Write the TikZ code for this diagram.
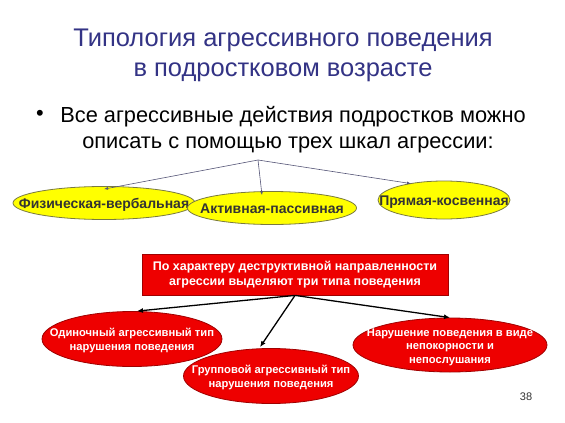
\documentclass[tikz,border=0pt]{standalone}
\usepackage{fontspec}
\setmainfont{Liberation Sans}
\usetikzlibrary{shapes.geometric,arrows.meta}
\definecolor{titleblue}{HTML}{333385}
\definecolor{yel}{HTML}{FFFF00}
\definecolor{yeldraw}{HTML}{7A7A40}
\definecolor{redfill}{HTML}{EE0000}
\definecolor{reddraw}{HTML}{A00000}
\definecolor{txtgray}{HTML}{333333}
\definecolor{thinline}{HTML}{555577}
\newcommand{\ctext}[1]{\makebox[0pt]{\smash{\raisebox{-0.8ex}{\begin{tabular}[c]{@{}c@{}}#1\end{tabular}}}}}
\tikzset{
  yellips/.style={ellipse, draw=yeldraw, fill=yel, line width=0.8pt, inner sep=0pt,
    font=\fontsize{14}{16}\selectfont\bfseries, text=txtgray},
  rellips/.style={ellipse, draw=reddraw, fill=redfill, line width=0.8pt, inner sep=0pt,
    font=\fontsize{11.2}{13.5}\selectfont\bfseries, text=white},
  redbox/.style={rectangle, draw=reddraw, fill=redfill, line width=0.8pt,
    font=\fontsize{12.5}{15}\selectfont\bfseries, text=white, align=center,
    minimum width=306pt, minimum height=41pt, inner sep=0pt},
  thinarrow/.style={draw=thinline, line width=0.6pt, -{Latex[length=4pt,width=3pt]}},
  boldarrow/.style={draw=black, line width=1.3pt, -{Latex[length=6pt,width=5pt]}},
  btxt/.style={font=\fontsize{21.8}{28}\selectfont, inner sep=0pt},
}
\begin{document}
\begin{tikzpicture}[x=1pt,y=-1pt]
\useasboundingbox (0,0) rectangle (565,423);
\fill[white] (0,0) rectangle (565,423);
% title
\node[text=titleblue, font=\fontsize{25.5}{30}\selectfont, align=center] (title) at (283,55)
  {Типология агрессивного поведения\\в подростковом возрасте};
% bullet
\node[btxt] (bul) at (40,115) {•};
\node[btxt] (bline1) at (293,117) {Все агрессивные действия подростков можно};
\node[btxt] (bline2) at (288,145) {описать с помощью трех шкал агрессии:};
% top branching
\coordinate (apex1) at (258,160);
\node[yellips, minimum width=182pt, minimum height=33pt] (fv) at (104,203) {\ctext{Физическая-вербальная}};
\node[yellips, minimum width=132pt, minimum height=38pt] (pk) at (444,200) {\ctext{Прямая-косвенная}};
\node[yellips, minimum width=169pt, minimum height=33pt] (ap) at (272,208) {\ctext{Активная-пассивная}};
\draw[thinarrow] (apex1) -- ([yshift=-3pt]fv.north);
\draw[thinarrow] (apex1) -- ([xshift=-10pt,yshift=-4pt]ap.north);
\draw[thinarrow] (apex1) -- ([xshift=-33pt,yshift=-3pt]pk.north);
% red box
\node[redbox] (box) at (295,274.5) {По характеру деструктивной направленности\\агрессии выделяют три типа поведения};
% red ellipses
\node[rellips, minimum width=180pt, minimum height=55pt] (odin) at (132,339)
  {\ctext{Одиночный агрессивный тип\\нарушения поведения}};
\node[rellips, minimum width=194pt, minimum height=54pt] (nar) at (450,345)
  {\ctext{Нарушение поведения в виде\\непокорности и\\непослушания}};
\node[rellips, minimum width=175pt, minimum height=55pt] (grup) at (271,376)
  {\ctext{Групповой агрессивный тип\\нарушения поведения}};
\draw[boldarrow] (box.south) -- ([xshift=5pt]odin.north);
\draw[boldarrow] (box.south) -- ([xshift=-11pt,yshift=1pt]grup.north);
\draw[boldarrow] (box.south) -- (nar.north);
% page number
\node[text=txtgray, font=\fontsize{11}{13}\selectfont] (num) at (526,397) {38};
\end{tikzpicture}
\end{document}
